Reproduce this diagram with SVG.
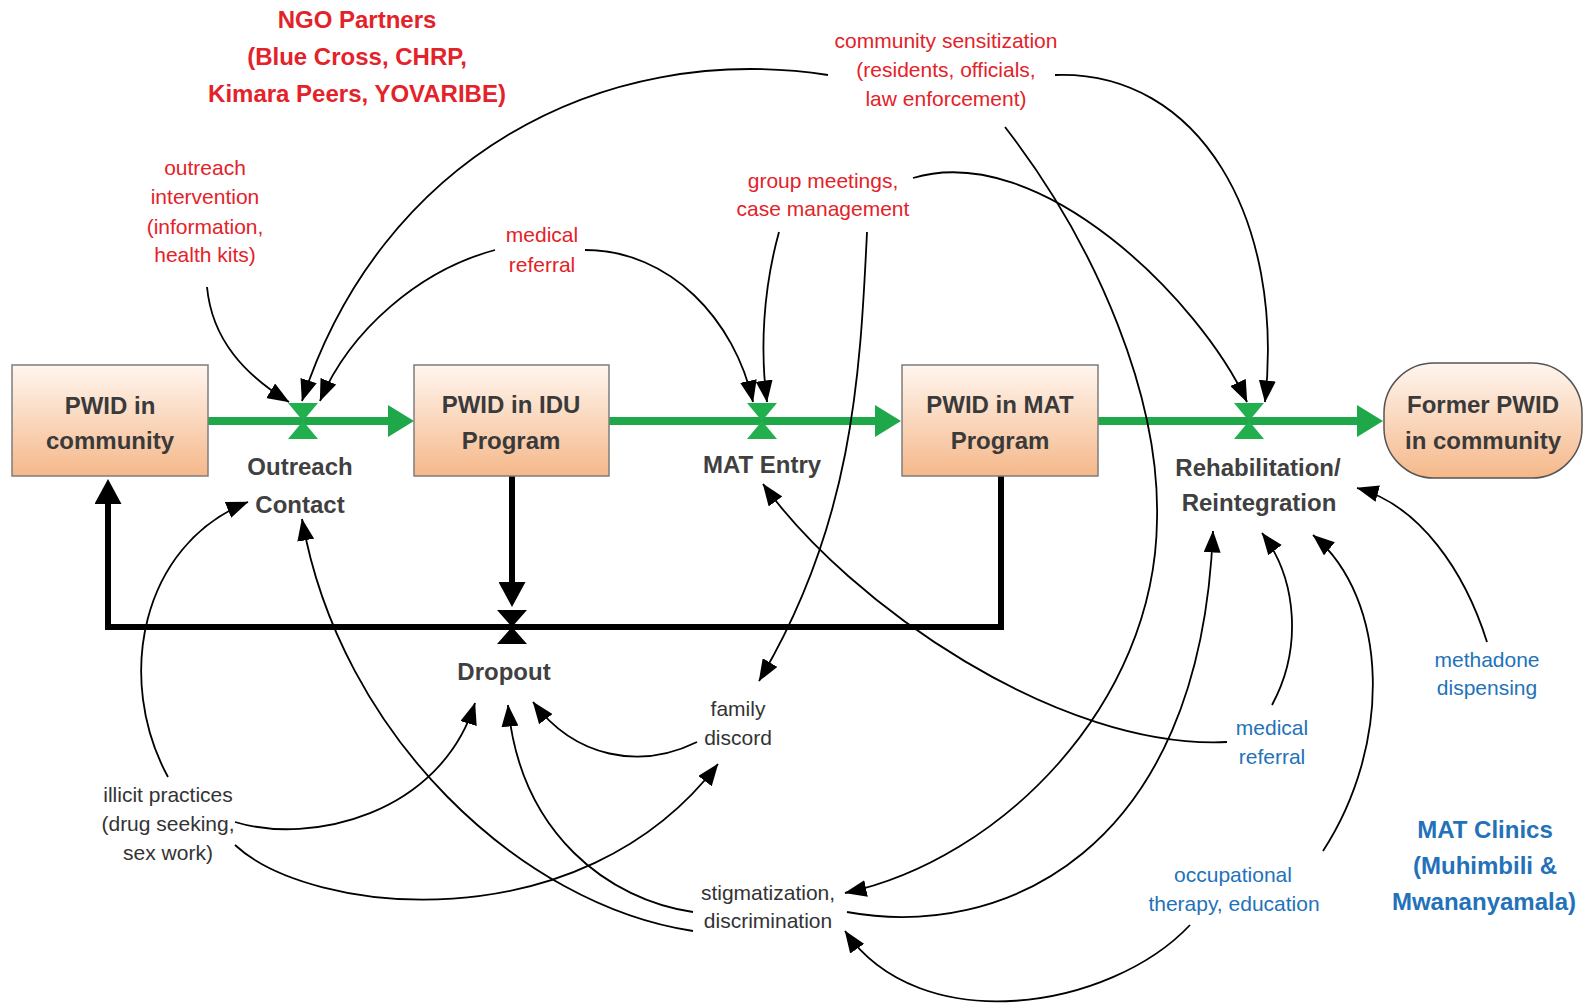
<svg xmlns="http://www.w3.org/2000/svg" width="1589" height="1003" viewBox="0 0 1589 1003">
<style>
text{font-family:"Liberation Sans",Arial,sans-serif;text-anchor:middle}
.bx{font-size:24px;font-weight:bold;fill:#3a3a3a}
.fl{font-size:24px;font-weight:bold;fill:#404040}
.red{font-size:21px;fill:#e32229}
.redb{font-size:24px;font-weight:bold;fill:#e32229}
.blue{font-size:21px;fill:#2372b9}
.blueb{font-size:24px;font-weight:bold;fill:#2372b9}
.dk{font-size:21px;fill:#333}
.c{fill:none;stroke:#000;stroke-width:1.8;marker-end:url(#ah)}
.stock{fill:url(#peach);stroke:#7d7d7d;stroke-width:1.5}
.gflow{fill:none;stroke:#1fa84a;stroke-width:8;marker-end:url(#gh)}
.bflow{fill:none;stroke:#000;stroke-width:6;stroke-linejoin:miter;marker-end:url(#bh)}
.gv{fill:#22b04f}
</style>
<defs>
<linearGradient id="peach" x1="0" y1="0" x2="0" y2="1">
<stop offset="0" stop-color="#fff6ef"/>
<stop offset="1" stop-color="#f5b88a"/>
</linearGradient>
<marker id="ah" markerUnits="userSpaceOnUse" viewBox="0 0 22 17" markerWidth="22" markerHeight="17" refX="21.5" refY="8.5" orient="auto">
<path d="M0,0 L22,8.5 L0,17 z" fill="#000"/>
</marker>
<marker id="gh" markerUnits="userSpaceOnUse" viewBox="0 0 26 32" markerWidth="26" markerHeight="32" refX="1" refY="16" orient="auto">
<path d="M0,0 L26,16 L0,32 z" fill="#1fa84a"/>
</marker>
<marker id="bh" markerUnits="userSpaceOnUse" viewBox="0 0 25 27" markerWidth="25" markerHeight="27" refX="1" refY="13.5" orient="auto">
<path d="M0,0 L25,13.5 L0,27 z" fill="#000"/>
</marker>
</defs>
<rect width="1589" height="1003" fill="#fff"/>

<g id="flows">
<path class="gflow" d="M208,421 H389"/>
<path class="gflow" d="M609,421 H876"/>
<path class="gflow" d="M1098,421 H1358"/>
<path class="bflow" d="M512,476 V583"/>
<path class="bflow" d="M1001,476 V627 H108 V503"/>
</g>

<g id="node-pwid-community">
<rect class="stock" x="12" y="365" width="196" height="111"/>
<text class="bx" x="110" y="414">PWID in</text>
<text class="bx" x="110" y="449">community</text>
</g>
<g id="node-pwid-idu">
<rect class="stock" x="414" y="365" width="195" height="111"/>
<text class="bx" x="511" y="413">PWID in IDU</text>
<text class="bx" x="511" y="449">Program</text>
</g>
<g id="node-pwid-mat">
<rect class="stock" x="902" y="365" width="196" height="111"/>
<text class="bx" x="1000" y="413">PWID in MAT</text>
<text class="bx" x="1000" y="449">Program</text>
</g>
<g id="node-former-pwid">
<rect x="1384" y="363" width="198" height="115" rx="50" ry="50" fill="url(#peach)" stroke="#555" stroke-width="1.5"/>
<text class="bx" x="1483" y="413">Former PWID</text>
<text class="bx" x="1483" y="449">in community</text>
</g>

<g id="valve-outreach">
<path class="gv" d="M288,403 H318 L303,421 z M288,439 H318 L303,421 z"/>
<text class="fl" x="300" y="475">Outreach</text>
<text class="fl" x="300" y="513">Contact</text>
</g>
<g id="valve-mat-entry">
<path class="gv" d="M747,403 H777 L762,421 z M747,439 H777 L762,421 z"/>
<text class="fl" x="762" y="473">MAT Entry</text>
</g>
<g id="valve-rehab">
<path class="gv" d="M1234,403 H1264 L1249,421 z M1234,439 H1264 L1249,421 z"/>
<text class="fl" x="1258" y="476">Rehabilitation/</text>
<text class="fl" x="1259" y="511">Reintegration</text>
</g>
<g id="valve-dropout">
<path d="M497,610 H527 L512,627 z M497,644 H527 L512,627 z" fill="#000"/>
<text class="fl" x="504" y="680">Dropout</text>
</g>

<g id="ngo-partners">
<text class="redb" x="357" y="28">NGO Partners</text>
<text class="redb" x="357" y="65">(Blue Cross, CHRP,</text>
<text class="redb" x="357" y="102">Kimara Peers, YOVARIBE)</text>
</g>
<g id="outreach-intervention">
<text class="red" x="205" y="175">outreach</text>
<text class="red" x="205" y="204">intervention</text>
<text class="red" x="205" y="234">(information,</text>
<text class="red" x="205" y="262">health kits)</text>
</g>
<g id="medical-referral-ngo">
<text class="red" x="542" y="242">medical</text>
<text class="red" x="542" y="272">referral</text>
</g>
<g id="community-sensitization">
<text class="red" x="946" y="48">community sensitization</text>
<text class="red" x="946" y="77">(residents, officials,</text>
<text class="red" x="946" y="106">law enforcement)</text>
</g>
<g id="group-meetings">
<text class="red" x="823" y="188">group meetings,</text>
<text class="red" x="823" y="216">case management</text>
</g>
<g id="family-discord">
<text class="dk" x="738" y="716">family</text>
<text class="dk" x="738" y="745">discord</text>
</g>
<g id="illicit-practices">
<text class="dk" x="168" y="802">illicit practices</text>
<text class="dk" x="168" y="831">(drug seeking,</text>
<text class="dk" x="168" y="860">sex work)</text>
</g>
<g id="stigmatization">
<text class="dk" x="768" y="900">stigmatization,</text>
<text class="dk" x="768" y="928">discrimination</text>
</g>
<g id="methadone-dispensing">
<text class="blue" x="1487" y="667">methadone</text>
<text class="blue" x="1487" y="695">dispensing</text>
</g>
<g id="medical-referral-mat">
<text class="blue" x="1272" y="735">medical</text>
<text class="blue" x="1272" y="764">referral</text>
</g>
<g id="occupational-therapy">
<text class="blue" x="1233" y="882">occupational</text>
<text class="blue" x="1234" y="911">therapy, education</text>
</g>
<g id="mat-clinics">
<text class="blueb" x="1485" y="838">MAT Clinics</text>
<text class="blueb" x="1485" y="874">(Muhimbili &amp;</text>
<text class="blueb" x="1484" y="910">Mwananyamala)</text>
</g>

<g id="connectors">
<path class="c" d="M207,287 C212,340 245,375 289,402"/>
<path class="c" d="M828,75 C600,40 380,160 302,401"/>
<path class="c" d="M495,250 C420,270 350,330 320,401"/>
<path class="c" d="M585,250 C670,250 735,320 753,402"/>
<path class="c" d="M779,232 C763,290 760,350 767,402"/>
<path class="c" d="M867,232 C860,380 852,525 759,681"/>
<path class="c" d="M913,178 C1040,140 1200,300 1247,402"/>
<path class="c" d="M1055,75 C1200,70 1285,220 1265,402"/>
<path class="c" d="M1005,127 C1100,250 1160,400 1157,520 C1155,705 1000,860 845,893"/>
<path class="c" d="M847,912 C1000,940 1200,855 1213,531"/>
<path class="c" d="M1272,705 C1302,650 1298,580 1262,533"/>
<path class="c" d="M1227,742 C1060,750 850,605 763,484"/>
<path class="c" d="M1323,851 C1392,745 1390,600 1313,535"/>
<path class="c" d="M1190,925 C1110,1010 920,1040 845,931"/>
<path class="c" d="M1487,642 C1465,572 1420,505 1357,488"/>
<path class="c" d="M168,777 C115,680 140,545 248,502"/>
<path class="c" d="M235,822 C310,845 440,815 475,703"/>
<path class="c" d="M235,845 C310,915 580,945 718,764"/>
<path class="c" d="M693,931 C520,905 340,735 302,519"/>
<path class="c" d="M693,912 C610,900 520,835 508,705"/>
<path class="c" d="M697,742 C640,770 575,758 533,702"/>
</g>
</svg>
